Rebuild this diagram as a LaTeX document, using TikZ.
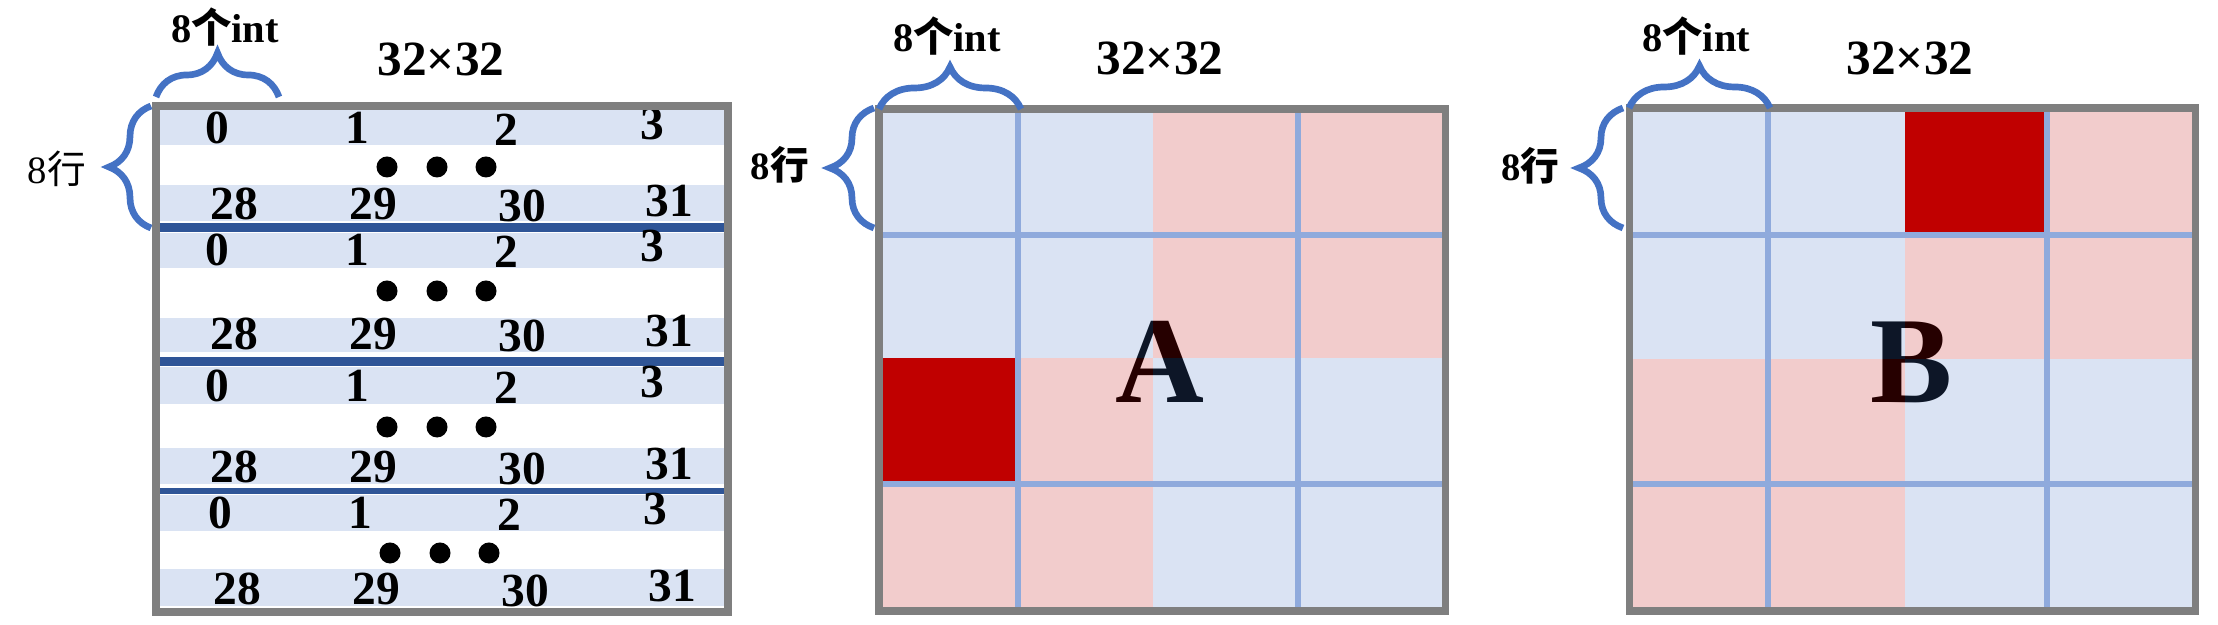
\documentclass[tikz,border=0pt]{standalone}
\usepackage{fontspec}
\setmainfont{Liberation Serif}
\newfontfamily\cjk{Noto Sans CJK SC}
\usepackage{tikz}
\usetikzlibrary{decorations.pathreplacing}
\definecolor{cellblue}{HTML}{4472C4}
\definecolor{cellred}{HTML}{C00000}
\definecolor{gridblue}{HTML}{8FAADC}
\definecolor{bandblue}{HTML}{DAE3F3}
\definecolor{sepblue}{HTML}{2F5597}
\definecolor{boxgray}{HTML}{7F7F7F}
\tikzset{
  % matrix frames and cells
  framebox/.style={draw=boxgray, line width=2pt},
  gridline/.style={draw=gridblue, line width=1.9pt},
  quadblue/.style={fill=cellblue, fill opacity=0.2},
  quadred/.style={fill=cellred, fill opacity=0.2},
  hotcell/.style={fill=cellred},
  rowband/.style={fill=bandblue},
  sepline/.style={draw=sepblue},
  % braces
  hbrace/.style={draw=cellblue, line width=1.9pt, decorate,
    decoration={brace, amplitude=0.42cm}},
  vbrace/.style={draw=cellblue, line width=1.9pt, decorate,
    decoration={brace, amplitude=0.44cm}},
  % labels
  sizelabel/.style={font=\fontsize{14}{14}\selectfont\bfseries, inner sep=0pt},
  intlabel/.style={font=\fontsize{11.5}{12}\selectfont\bfseries, inner sep=0pt},
  rowlabel/.style={font=\fontsize{11}{11}\selectfont, inner sep=0pt},
  biglabel/.style={font=\fontsize{35}{35}\selectfont\bfseries, inner sep=0pt},
  numlabel/.style={font=\fontsize{13.5}{14}\selectfont\bfseries, inner sep=0pt}
}

\begin{document}
\begin{tikzpicture}[x=0.01cm, y=-0.01cm]
  \useasboundingbox (0,0) rectangle (2218,625);

  % --- Row layout (int indices) ---
  \coordinate (Ltl) at (156,106);
  \coordinate (Lbr) at (728,612);
  \fill[rowband] (160,110) rectangle (724,145);
  \fill[rowband] (160,185) rectangle (724,221);
  \fill[rowband] (160,233) rectangle (724,268);
  \fill[rowband] (160,318) rectangle (724,352);
  \fill[rowband] (160,367) rectangle (724,404);
  \fill[rowband] (160,448) rectangle (724,484);
  \fill[rowband] (160,495) rectangle (724,531);
  \fill[rowband] (160,569) rectangle (724,606);
  \draw[sepline, line width=2.6pt] (158,227.5) -- (726,227.5);
  \draw[sepline, line width=2.8pt] (158,361.5) -- (726,361.5);
  \draw[sepline, line width=1.7pt] (158,491) -- (726,491);

  \foreach \ty/\by/\my/\sx [count=\g] in {128/204/167/0, 250/334/291/0,
                                          386/467/427/0, 513/589/553/3} {
    \node[numlabel] (g\g a) at (217+\sx,\ty) {0};
    \node[numlabel] (g\g b) at (357+\sx,\ty) {1};
    \node[numlabel] (g\g c) at (506+\sx,\ty+2) {2};
    \node[numlabel] (g\g d) at (652+\sx,\ty-4) {3};
    \node[numlabel] (g\g e) at (234+\sx,\by) {28};
    \node[numlabel] (g\g f) at (373+\sx,\by) {29};
    \node[numlabel] (g\g g) at (522+\sx,\by+2) {30};
    \node[numlabel] (g\g h) at (669+\sx,\by-3) {31};
    \foreach \dx in {387,437,486}
      \fill (\dx+\sx,\my) circle [radius=0.105cm];
  }
  \draw[framebox] (Ltl) rectangle (Lbr);

  \node[intlabel] (Lint) at (225,27) {8{\cjk 个}int};
  \node[sizelabel] (Lsize) at (441,59) {32×32};
  \node[rowlabel] (Lrow) at (57,169) {8{\cjk 行}};
  \draw[hbrace, decoration={amplitude=0.44cm}] (156,97) -- (279,97);
  \draw[vbrace, decoration={amplitude=0.42cm}] (151,228) -- (151,106);

  % --- Matrix A ---
  \node[biglabel] (A) at (1160,362) {A};
  \fill[quadblue] (879,109) rectangle (1153,358);
  \fill[quadred] (1153,109) rectangle (1445,358);
  \fill[quadred] (879,358) rectangle (1153,611);
  \fill[quadblue] (1153,358) rectangle (1445,611);
  \fill[hotcell] (879,358) rectangle (1018,484);
  \draw[gridline] (1018,109) -- (1018,611);
  \draw[gridline] (1298,109) -- (1298,611);
  \draw[gridline] (879,235) -- (1445,235);
  \draw[gridline] (879,484) -- (1445,484);
  \draw[framebox] (879,109) rectangle (1445,611);

  \node[intlabel] (Aint) at (947,36) {8{\cjk 个}int};
  \node[sizelabel] (Asize) at (1160,58) {32×32};
  \node[rowlabel, font=\fontsize{11}{11}\selectfont\bfseries] (Arow) at (780,165) {8{\cjk 行}};
  \draw[hbrace] (879,109) -- (1021,109);
  \draw[vbrace] (874,228) -- (874,108);

  % --- Matrix B ---
  \node[biglabel] (B) at (1912,362) {B};
  \fill[quadblue] (1629,108) rectangle (1905,359);
  \fill[quadred] (1905,108) rectangle (2195,359);
  \fill[quadred] (1629,359) rectangle (1905,611);
  \fill[quadblue] (1905,359) rectangle (2195,611);
  \fill[hotcell] (1905,108) rectangle (2047,235);
  \draw[gridline] (1768,108) -- (1768,611);
  \draw[gridline] (2047,108) -- (2047,611);
  \draw[gridline] (1629,235) -- (2195,235);
  \draw[gridline] (1629,484) -- (2195,484);
  \draw[framebox] (1629,108) rectangle (2195,611);

  \node[intlabel] (Bint) at (1696,36) {8{\cjk 个}int};
  \node[sizelabel] (Bsize) at (1910,58) {32×32};
  \node[rowlabel, font=\fontsize{11}{11}\selectfont\bfseries] (Brow) at (1530,166) {8{\cjk 行}};
  \draw[hbrace] (1629,108) -- (1770,108);
  \draw[vbrace] (1623,228) -- (1623,108);

\end{tikzpicture}
\end{document}
